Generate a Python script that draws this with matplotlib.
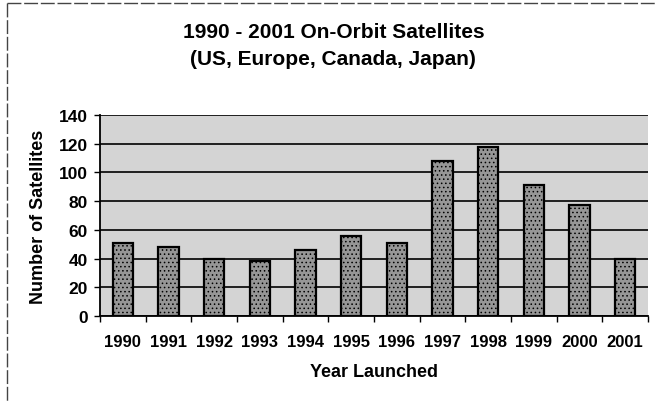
import numpy as np
import matplotlib.pyplot as plt
from matplotlib.patches import Rectangle
from matplotlib.lines import Line2D

years = ["1990", "1991", "1992", "1993", "1994", "1995",
         "1996", "1997", "1998", "1999", "2000", "2001"]
satellites = [51, 48, 40, 38, 46, 56, 51, 108, 118, 91, 77, 40]
y_ticks = [0, 20, 40, 60, 80, 100, 120, 140]
title_lines = ["1990 - 2001 On-Orbit Satellites",
               "(US, Europe, Canada, Japan)"]

plt.rcParams["font.family"] = ["Liberation Sans", "DejaVu Sans"]
plt.rcParams["hatch.color"] = "#6a6a6a"
plt.rcParams["hatch.linewidth"] = 0.6

fig = plt.figure(figsize=(6.55, 4.02), dpi=100)
ax = fig.add_axes([0.1527, 0.2114, 0.8366, 0.50])

# stippled grey plot area
ax.set_facecolor("#d4d4d4")
bg = Rectangle((0, 0), 1, 1, transform=ax.transAxes, facecolor="none",
               edgecolor="none", hatch="....", zorder=0)
ax.add_patch(bg)

x = np.arange(len(years))
ax.bar(x, satellites, width=0.44, color="#969696", edgecolor="black",
       linewidth=1.6, hatch="....", zorder=3)

ax.set_xlim(-0.5, len(years) - 0.5)
ax.set_ylim(0, 140)
ax.set_yticks(y_ticks)
ax.yaxis.grid(True, color="black", linewidth=1.2, zorder=1)
ax.set_axisbelow(True)

ax.set_xticks(x)
ax.set_xticklabels(years, fontsize=12, fontweight="bold")
ax.set_xticks(np.arange(-0.5, len(years)), minor=True)
ax.tick_params(axis="x", which="major", length=0, pad=13)
ax.tick_params(axis="x", which="minor", length=4, width=1)
ax.tick_params(axis="y", length=4, width=1, labelsize=12.5, pad=5)
for lab in ax.get_yticklabels():
    lab.set_fontweight("bold")

for side in ["top", "right"]:
    ax.spines[side].set_visible(False)
ax.spines["left"].set_linewidth(1.3)
ax.spines["bottom"].set_linewidth(1.3)

ax.set_ylabel("Number of Satellites", fontsize=13, fontweight="bold",
              labelpad=8)
ax.set_xlabel("Year Launched", fontsize=13, fontweight="bold", labelpad=10)

fig.text(0.509, 0.918, title_lines[0], ha="center", va="center",
         fontsize=15, fontweight="bold")
fig.text(0.509, 0.851, title_lines[1], ha="center", va="center",
         fontsize=15, fontweight="bold")

# outer frame of the chart (top and left edges visible)
fig.add_artist(Line2D([0.011, 1.0], [0.99, 0.99], transform=fig.transFigure,
                      color="#444444", linewidth=1.0, linestyle=(0, (10, 2))))
fig.add_artist(Line2D([0.011, 0.011], [0.99, 0.0], transform=fig.transFigure,
                      color="#444444", linewidth=1.0, linestyle=(0, (10, 2))))

fig.savefig("out.png", dpi=100)
